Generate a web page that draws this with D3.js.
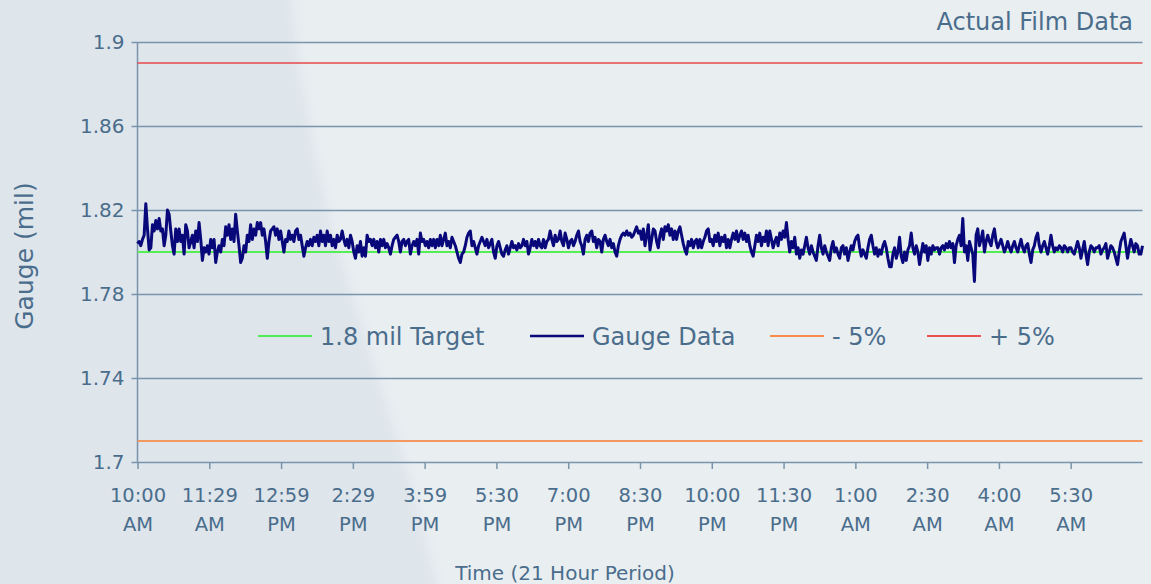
<!DOCTYPE html>
<meta charset="utf-8">
<head>
  <title>Actual Film Data</title>
  <style>
    body { margin: 0; background: #e9eef1; }
    text { font-family: "DejaVu Sans", sans-serif; fill: #4a6d8c; }
  </style>
</head>
<body>
<script src="https://d3js.org/d3.v7.min.js"></script>
<script>
var WIDTH = 1151,
    HEIGHT = 584;

// spec lines (mil)
var TARGET = 1.8,
    LOWER = 1.71,
    UPPER = 1.89;

var yTicks = [1.9, 1.86, 1.82, 1.78, 1.74, 1.7];
var yTickLabels = ["1.9", "1.86", "1.82", "1.78", "1.74", "1.7"];

// hours after 10:00 AM, 21 hour run
var timeTicks = [0, 1.5, 3, 4.5, 6, 7.5, 9, 10.5, 12, 13.5, 15, 16.5, 18, 19.5];
var timeLabels = ["10:00", "11:29", "12:59", "2:29", "3:59", "5:30", "7:00",
                  "8:30", "10:00", "11:30", "1:00", "2:30", "4:00", "5:30"];
var ampmLabels = ["AM", "AM", "PM", "PM", "PM", "PM", "PM",
                  "PM", "PM", "PM", "AM", "AM", "AM", "AM"];

var legendNames = ["1.8 mil Target", "Gauge Data", "- 5%", "+  5%"];

// gauge readings, evenly spaced over the 21 hours
var gauge = [
  1.804,1.805,1.803,1.806,1.808,1.823,1.811,1.801,1.802,1.813,
  1.810,1.815,1.811,1.816,1.810,1.811,1.803,1.808,1.820,1.818,
  1.810,1.803,1.799,1.811,1.805,1.811,1.805,1.808,1.799,1.813,
  1.810,1.802,1.805,1.808,1.802,1.810,1.805,1.814,1.806,1.796,
  1.802,1.800,1.803,1.799,1.806,1.802,1.806,1.795,1.800,1.803,
  1.800,1.806,1.803,1.812,1.808,1.813,1.806,1.811,1.805,1.818,
  1.810,1.803,1.795,1.797,1.803,1.800,1.808,1.805,1.813,1.806,
  1.811,1.808,1.814,1.811,1.814,1.808,1.811,1.805,1.797,1.805,
  1.810,1.811,1.812,1.808,1.811,1.806,1.810,1.805,1.800,1.806,
  1.805,1.810,1.806,1.808,1.805,1.810,1.811,1.806,1.808,1.803,
  1.798,1.802,1.805,1.803,1.806,1.803,1.807,1.805,1.808,1.803,
  1.810,1.805,1.808,1.803,1.810,1.805,1.808,1.803,1.806,1.802,
  1.808,1.805,1.806,1.810,1.806,1.803,1.806,1.802,1.808,1.805,
  1.800,1.797,1.803,1.800,1.805,1.798,1.802,1.798,1.808,1.805,
  1.806,1.803,1.806,1.802,1.805,1.800,1.806,1.803,1.806,1.802,
  1.804,
  1.802,1.799,1.803,1.806,1.807,1.808,1.805,1.800,1.805,1.806,
  1.803,1.805,1.806,1.799,1.803,1.805,1.803,1.806,1.799,1.809,
  1.805,1.806,1.803,1.805,1.802,1.806,1.803,1.806,1.802,1.806,
  1.803,1.808,1.803,1.806,1.809,1.803,1.805,1.802,1.807,1.805,
  1.803,1.800,1.797,1.795,1.799,1.800,1.803,1.807,1.809,1.810,
  1.803,1.805,1.802,1.799,1.803,1.805,1.807,1.805,1.803,1.806,
  1.802,1.804,1.806,1.800,1.797,1.803,1.805,1.802,1.799,1.798,
  1.801,1.803,1.799,1.802,1.805,1.802,1.803,1.801,1.804,1.802,
  1.803,1.806,1.803,1.805,1.799,1.802,1.806,1.803,1.805,1.802,
  1.806,1.803,1.802,1.806,1.802,1.805,1.806,1.810,1.806,1.803,
  1.808,1.805,1.806,1.810,1.805,1.803,1.809,1.806,1.802,1.805,
  1.806,1.803,1.805,1.808,1.810,1.805,1.803,1.799,1.806,1.808,
  1.805,1.809,1.810,1.805,1.807,1.802,1.806,1.805,1.800,1.806,
  1.808,1.805,1.803,1.806,1.802,1.804,1.800,1.798,1.803,1.806,
  1.808,1.809,1.808,1.810,1.808,1.809,1.807,1.808,1.810,1.812,
  1.809,
  1.810,1.806,1.811,1.803,1.808,1.813,1.801,1.806,1.811,1.810,
  1.805,1.802,1.808,1.811,1.806,1.812,1.810,1.813,1.808,1.811,
  1.806,1.810,1.806,1.810,1.812,1.808,1.804,1.801,1.799,1.805,
  1.803,1.806,1.802,1.805,1.806,1.802,1.806,1.802,1.805,1.807,
  1.810,1.811,1.805,1.806,1.803,1.808,1.805,1.809,1.803,1.807,
  1.805,1.808,1.802,1.806,1.802,1.806,1.809,1.806,1.810,1.805,
  1.808,1.810,1.806,1.809,1.805,1.808,1.803,1.800,1.798,1.803,
  1.808,1.805,1.809,1.803,1.807,1.805,1.810,1.803,1.810,1.806,
  1.802,1.805,1.807,1.803,1.809,1.806,1.810,1.807,1.814,1.806,
  1.800,1.805,1.802,1.807,1.799,1.802,1.797,1.801,1.799,1.803,
  1.807,1.802,1.799,1.803,1.800,1.798,1.796,1.803,1.808,1.802,
  1.799,1.803,1.800,1.798,1.796,1.802,1.805,1.800,1.802,1.799,
  1.797,1.802,1.803,1.799,1.802,1.796,1.800,1.803,1.801,1.805,
  1.807,1.808,1.802,1.798,1.801,1.799,1.797,1.802,1.806,1.808,
  1.803,1.799,1.802,1.798,1.801,1.799,1.803,1.805,1.802,1.797,
  1.793,
  1.793,1.799,1.802,1.797,1.800,1.807,1.798,1.795,1.800,1.796,
  1.801,1.803,1.809,1.802,1.799,1.803,1.800,1.794,1.799,1.804,
  1.800,1.803,1.796,1.802,1.799,1.803,1.801,1.802,1.802,1.799,
  1.802,1.803,1.801,1.804,1.802,1.805,1.802,1.804,1.795,1.803,
  1.806,1.808,1.803,1.816,1.800,1.803,1.796,1.805,1.802,1.799,
  1.786,1.808,1.811,1.803,1.806,1.810,1.800,1.805,1.808,1.805,
  1.803,1.808,1.811,1.805,1.802,1.804,1.806,1.803,1.800,1.802,
  1.805,1.802,1.800,1.803,1.805,1.802,1.800,1.803,1.806,1.802,
  1.800,1.803,1.804,1.799,1.795,1.801,1.803,1.807,1.809,1.803,
  1.800,1.803,1.805,1.802,1.799,1.803,1.808,1.803,1.800,1.802,
  1.801,1.803,1.802,1.800,1.803,1.802,1.800,1.802,1.802,1.800,
  1.799,1.802,1.805,1.802,1.797,1.801,1.805,1.799,1.794,1.800,
  1.803,1.802,1.800,1.802,1.802,1.803,1.799,1.801,1.802,1.804,
  1.797,1.800,1.803,1.802,1.800,1.797,1.794,1.800,1.805,1.807,
  1.809,1.803,1.797,1.802,1.806,1.803,1.800,1.804,1.803,1.799,
  1.799,1.803
];

var GRID = "#7a94ab",
    TEXT = "#4a6d8c";

var x = d3.scaleLinear().domain([0, 21]).range([137.5, 1142.5]);
var y = d3.scaleLinear().domain([1.7, 1.9]).range([462, 42]);
var xi = d3.scaleLinear().domain([0, gauge.length - 1]).range(x.range());

var svg = d3.select("body").append("svg")
    .attr("width", WIDTH)
    .attr("height", HEIGHT)
    .style("display", "block");

var defs = svg.append("defs");
defs.append("filter").attr("id", "soft")
    .attr("x", "-20%").attr("y", "-20%").attr("width", "140%").attr("height", "140%")
  .append("feGaussianBlur").attr("stdDeviation", 6);

// background, darker wedge on the left
svg.append("rect").attr("width", WIDTH).attr("height", HEIGHT).attr("fill", "#e9eef1");
svg.append("path")
    .attr("d", "M-20,-20 L290,-20 L298,60 L314,150 L332,230 L354,300 L382,390 L410,480 L442,604 L-20,604 Z")
    .attr("fill", "#dee5eb")
    .attr("filter", "url(#soft)");

// horizontal grid + y axis
var yAxis = d3.axisLeft(y)
    .tickValues(yTicks)
    .tickSize(-(x.range()[1] - x.range()[0]))
    .tickPadding(13)
    .tickFormat(function(d, i) { return yTickLabels[i]; });

var gy = svg.append("g").attr("transform", "translate(" + x.range()[0] + ",0)").call(yAxis);
gy.select(".domain").remove();
gy.selectAll(".tick line")
    .attr("x1", -6)
    .attr("stroke", GRID)
    .attr("stroke-width", 1.5);
gy.selectAll(".tick text")
    .attr("font-size", 20)
    .attr("fill", TEXT)
    .style("font-family", null);

svg.append("line")
    .attr("x1", x.range()[0]).attr("x2", x.range()[0])
    .attr("y1", y(1.9)).attr("y2", y(1.7))
    .attr("stroke", GRID).attr("stroke-width", 1.5);

// x axis
var xAxis = d3.axisBottom(x)
    .tickValues(timeTicks)
    .tickSize(7)
    .tickFormat("");

var gx = svg.append("g").attr("transform", "translate(0," + y(1.7) + ")").call(xAxis);
gx.select(".domain").remove();
gx.selectAll(".tick line").attr("stroke", GRID).attr("stroke-width", 1.5);

var labels = gx.selectAll(".tick").append("text")
    .attr("text-anchor", "middle")
    .attr("font-size", 19.5)
    .attr("fill", TEXT);
labels.append("tspan").attr("x", 0).attr("y", 40)
    .text(function(d, i) { return timeLabels[i]; });
labels.append("tspan").attr("x", 0).attr("y", 69)
    .text(function(d, i) { return ampmLabels[i]; });

// limit and target lines
var line = d3.line()
    .x(function(d) { return x(d[0]); })
    .y(function(d) { return y(d[1]); });

svg.append("path")
    .attr("d", line([[0, UPPER], [21, UPPER]]))
    .attr("stroke", "#e84848").attr("stroke-width", 1.6).attr("fill", "none");
svg.append("path")
    .attr("d", line([[0, LOWER], [21, LOWER]]))
    .attr("stroke", "#f39860").attr("stroke-width", 2).attr("fill", "none");
svg.append("path")
    .attr("d", line([[0, TARGET], [21, TARGET]]))
    .attr("stroke", "#55ee55").attr("stroke-width", 2).attr("fill", "none");

// gauge trace
var gaugeLine = d3.line()
    .x(function(d, i) { return xi(i); })
    .y(function(d) { return y(d); });

svg.append("path")
    .attr("d", gaugeLine(gauge))
    .attr("stroke", "#08087a")
    .attr("stroke-width", 3)
    .attr("stroke-linejoin", "round")
    .attr("fill", "none");

// legend
var legendColors = ["#22ee22", "#08087a", "#ff6a10", "#e81c1c"];
var legendWidths = [1.3, 2.6, 1.3, 1.3];
var legendX = [258, 530, 770, 927];
var legend = svg.append("g").attr("transform", "translate(0,336)");
legendNames.forEach(function(name, i) {
  legend.append("line")
      .attr("x1", legendX[i]).attr("x2", legendX[i] + 54)
      .attr("stroke", legendColors[i])
      .attr("stroke-width", legendWidths[i]);
  legend.append("text")
      .attr("x", legendX[i] + 62)
      .attr("y", 9)
      .attr("font-size", 24)
      .text(name);
});

// titles
svg.append("text")
    .attr("x", 1133).attr("y", 30)
    .attr("text-anchor", "end")
    .attr("font-size", 24)
    .text("Actual Film Data");

svg.append("text")
    .attr("transform", "translate(33,256) rotate(-90)")
    .attr("text-anchor", "middle")
    .attr("font-size", 25)
    .text("Gauge (mil)");

svg.append("text")
    .attr("x", 565).attr("y", 580)
    .attr("text-anchor", "middle")
    .attr("font-size", 20)
    .text("Time (21 Hour Period)");
</script>
</body>
